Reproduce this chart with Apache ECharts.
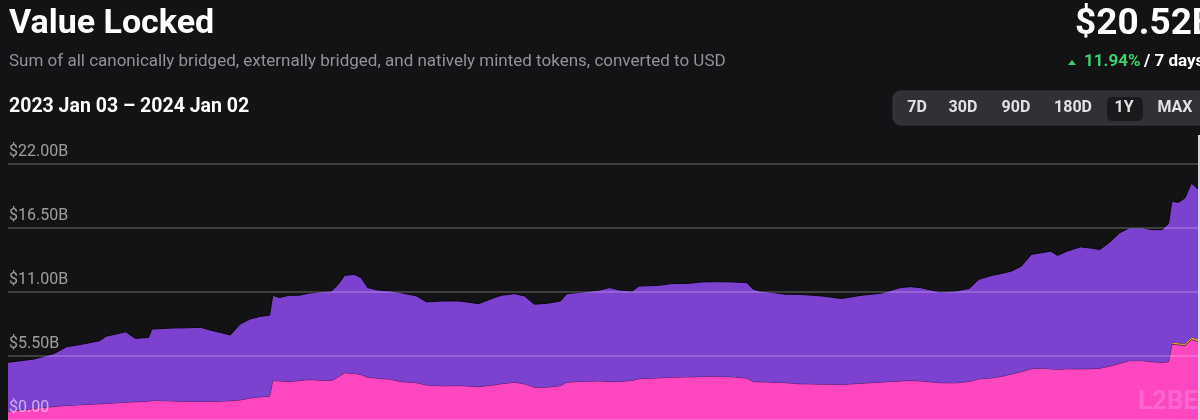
<!DOCTYPE html>
<html>
<head>
<meta charset="utf-8">
<script src="https://cdn.jsdelivr.net/npm/echarts@6/dist/echarts.min.js"></script>
<style>
  html, body { margin: 0; padding: 0; background: #131315; }
  #chart { width: 1200px; height: 420px; }
</style>
</head>
<body>
<div id="chart"></div>
<script>
// ---- data (values in billions USD) ----
const dates = [
  '2023-01-03','2023-01-07','2023-01-11','2023-01-14','2023-01-17','2023-01-21','2023-01-26','2023-01-31',
  '2023-02-02','2023-02-05','2023-02-08','2023-02-11','2023-02-15','2023-02-16','2023-02-22','2023-02-26',
  '2023-03-03','2023-03-06','2023-03-09','2023-03-12','2023-03-15','2023-03-18','2023-03-21','2023-03-24',
  '2023-03-25','2023-03-27','2023-03-30','2023-04-02','2023-04-05','2023-04-08','2023-04-12','2023-04-14',
  '2023-04-16','2023-04-19','2023-04-21','2023-04-23','2023-04-26','2023-04-30','2023-05-03','2023-05-08',
  '2023-05-11','2023-05-16','2023-05-21','2023-05-27','2023-05-31','2023-06-03','2023-06-07','2023-06-10',
  '2023-06-13','2023-06-17','2023-06-21','2023-06-23','2023-06-28','2023-07-03','2023-07-06','2023-07-09',
  '2023-07-13','2023-07-15','2023-07-21','2023-07-25','2023-07-30','2023-08-03','2023-08-08','2023-08-13',
  '2023-08-17','2023-08-19','2023-08-21','2023-08-25','2023-08-29','2023-09-02','2023-09-09','2023-09-15',
  '2023-09-21','2023-09-27','2023-10-03','2023-10-06','2023-10-09','2023-10-15','2023-10-20','2023-10-24',
  '2023-10-27','2023-10-31','2023-11-03','2023-11-06','2023-11-09','2023-11-12','2023-11-15','2023-11-18',
  '2023-11-20','2023-11-23','2023-11-27','2023-11-30','2023-12-03','2023-12-06','2023-12-09','2023-12-12',
  '2023-12-16','2023-12-19','2023-12-22','2023-12-24','2023-12-25','2023-12-27','2023-12-29','2023-12-31',
  '2024-01-02'
];
const nativelyMinted = [
  0.75,0.85,1.00,1.08,1.15,1.25,1.32,1.39,
  1.42,1.47,1.52,1.56,1.62,1.68,1.64,1.60,
  1.59,1.60,1.62,1.66,1.72,1.88,1.98,2.05,
  3.39,3.35,3.30,3.38,3.47,3.42,3.39,3.70,
  4.05,4.00,3.90,3.68,3.58,3.50,3.30,3.20,
  3.00,2.93,2.96,2.85,3.00,3.11,3.25,3.10,
  2.82,2.82,2.95,3.25,3.33,3.35,3.30,3.30,
  3.40,3.55,3.62,3.68,3.70,3.74,3.76,3.70,
  3.59,3.30,3.28,3.25,3.20,3.11,3.08,3.05,
  3.15,3.25,3.35,3.39,3.35,3.20,3.19,3.30,
  3.53,3.62,3.75,3.95,4.16,4.40,4.45,4.39,
  4.36,4.39,4.40,4.40,4.45,4.62,4.85,5.10,
  5.10,5.00,4.95,5.00,6.52,6.45,6.40,6.90,
  6.75
];
const externallyBridged = [
  0,0,0,0,0,0,0,0,
  0,0,0,0,0,0,0,0,
  0,0,0,0,0,0,0,0,
  0,0,0,0,0,0,0,0,
  0,0,0,0,0,0,0,0,
  0,0,0,0,0,0,0,0,
  0,0,0,0,0,0,0,0,
  0,0,0,0,0,0,0,0,
  0,0,0,0,0,0,0,0,
  0,0,0,0,0,0,0,0,
  0,0,0,0,0,0,0,0,
  0,0,0,0,0,0,0,0,
  0,0,0,0.02,0.15,0.15,0.15,0.20,
  0.20
];
const canonicallyBridged = [
  4.21,4.25,4.24,4.39,4.55,5.05,5.21,5.42,
  5.78,5.91,6.06,5.45,5.48,6.13,6.26,6.32,
  6.37,6.12,5.90,5.64,6.52,6.79,6.92,6.95,
  7.33,7.17,7.42,7.34,7.42,7.58,7.70,7.96,
  8.38,8.51,8.33,7.70,7.59,7.59,7.65,7.46,
  7.15,7.30,7.27,7.15,7.44,7.61,7.61,7.56,
  7.13,7.21,7.28,7.61,7.67,7.82,8.08,7.87,
  7.69,7.96,7.95,8.04,8.04,8.12,8.13,8.16,
  8.21,7.93,7.81,7.70,7.60,7.69,7.58,7.39,
  7.57,7.64,8.03,8.07,8.03,7.80,7.90,8.00,
  8.56,8.81,8.85,8.85,9.07,9.83,9.92,10.12,
  9.78,10.12,10.48,10.38,10.20,10.66,11.23,11.41,
  11.41,11.36,11.41,11.88,12.12,12.10,12.53,13.26,
  12.90
];
const yTicks = [0, 5.5, 11, 16.5, 22];
const rangeButtons = ['7D', '30D', '90D', '180D', '1Y', 'MAX'];
const selectedRange = '1Y';

const pair = (arr) => arr.map((v, i) => [dates[i], v]);

const chart = echarts.init(document.getElementById('chart'), null, { renderer: 'canvas' });

const btnCenters = [917, 963, 1016, 1073, 1124, 1175];
const mid = 'middle';
const graphics = [
  { type: 'text', x: 9, y: 24, z: 100, style: { text: 'Value Locked', fill: '#ffffff', font: 'bold 34px Roboto', textVerticalAlign: mid } },
  { type: 'text', x: 9, y: 62, z: 100, style: { text: 'Sum of all canonically bridged, externally bridged, and natively minted tokens, converted to USD', fill: '#939397', font: '17px Roboto', textVerticalAlign: mid } },
  { type: 'text', x: 9, y: 107, z: 100, style: { text: '2023 Jan 03 \u2013 2024 Jan 02', fill: '#ffffff', font: 'bold 19.5px Roboto', textVerticalAlign: mid } },
  { type: 'text', x: 1075, y: 25, z: 100, style: { text: '$20.52B', fill: '#ffffff', font: 'bold 37px Roboto', textVerticalAlign: mid } },
  { type: 'polygon', z: 100, shape: { points: [[1068, 65], [1076, 65], [1072, 60]] }, style: { fill: '#3fcf6a' } },
  { type: 'text', x: 1084, y: 62, z: 100, style: { text: '11.94%', fill: '#3fcf6a', font: 'bold 17px Roboto', textVerticalAlign: mid } },
  { type: 'text', x: 1144, y: 62, z: 100, style: { text: '/ 7 days', fill: '#ffffff', font: 'bold 17px Roboto', textVerticalAlign: mid } },
  { type: 'rect', z: 100, shape: { x: 893, y: 91, width: 330, height: 34, r: 8 }, style: { fill: '#303135', stroke: '#3c3d42', lineWidth: 1 } },
  { type: 'text', x: 1138, y: 402, z: 100, style: { text: 'L2BEAT', fill: 'rgba(255,255,255,0.17)', font: 'bold 26px Roboto', textVerticalAlign: mid } },
  { type: 'rect', z: 100, shape: { x: 1198, y: 135, width: 2, height: 285 }, style: { fill: '#d8d8da' } }
];
rangeButtons.forEach((label, i) => {
  if (label === selectedRange) {
    graphics.push({ type: 'rect', z: 101, shape: { x: 1107, y: 97, width: 36, height: 24, r: 5 }, style: { fill: '#1a1a1d' } });
  }
  graphics.push({ type: 'text', z: 102, x: btnCenters[i], y: 108, style: { text: label, fill: '#e2e2e4', font: 'bold 16px Roboto', textAlign: 'center', textVerticalAlign: mid } });
});

const option = {
  backgroundColor: '#131315',
  animation: false,
  grid: { left: 8, right: 2, top: 164, height: 257, containLabel: false },
  xAxis: {
    type: 'time',
    min: '2023-01-03',
    max: '2024-01-02',
    show: false
  },
  yAxis: {
    type: 'value',
    min: 0,
    max: 22,
    interval: 5.5,
    z: 10,
    axisLine: { show: false },
    axisTick: { show: false },
    splitLine: { show: true, lineStyle: { color: 'rgba(255,255,255,0.26)', width: 1.5 } },
    axisLabel: {
      inside: true,
      margin: 1,
      color: 'rgba(255,255,255,0.58)',
      fontFamily: 'Roboto',
      fontSize: 16,
      verticalAlign: 'bottom',
      padding: [0, 0, 4, 0],
      formatter: (v) => yTicks.includes(v) ? '$' + v.toFixed(2) + (v === 0 ? '' : 'B') : ''
    }
  },
  series: [
    {
      name: 'Natively minted', type: 'line', stack: 'tvl', data: pair(nativelyMinted),
      symbol: 'none', z: 2,
      lineStyle: { width: 1, color: 'rgba(60,25,90,0.7)' },
      areaStyle: { color: '#ff46c1', opacity: 1 }
    },
    {
      name: 'Externally bridged', type: 'line', stack: 'tvl', data: pair(externallyBridged),
      symbol: 'none', z: 1,
      lineStyle: { width: 0 },
      areaStyle: { color: '#f0a52a', opacity: 1 }
    },
    {
      name: 'Canonically bridged', type: 'line', stack: 'tvl', data: pair(canonicallyBridged),
      symbol: 'none', z: 4,
      lineStyle: { width: 1, color: '#08080a' },
      areaStyle: { color: '#7c41cf', opacity: 1 }
    }
  ],
  graphic: graphics
};
chart.setOption(option);
</script>
</body>
</html>
